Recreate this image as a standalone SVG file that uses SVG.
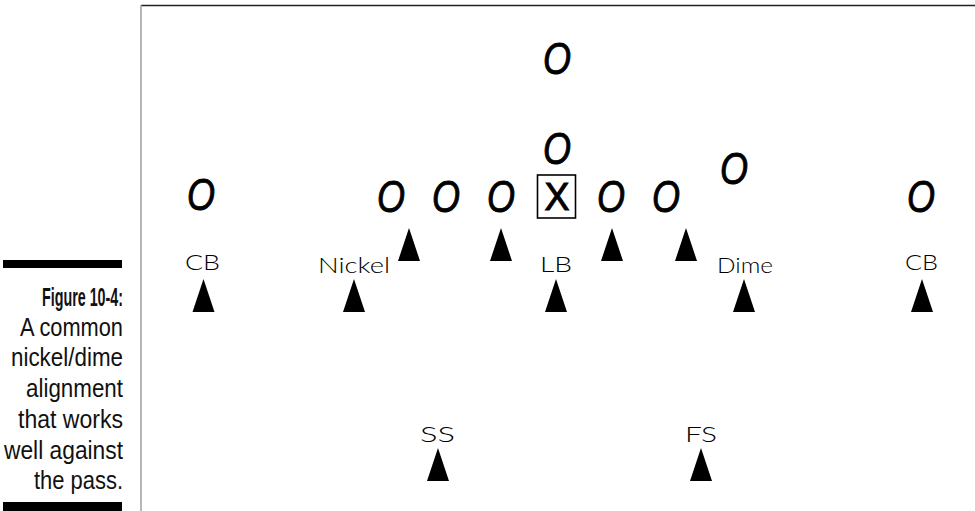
<svg xmlns="http://www.w3.org/2000/svg" width="975" height="511" viewBox="0 0 975 511">
<style>
.cap{font-family:"Liberation Sans",Arial,sans-serif;font-size:26px;fill:#111;text-anchor:end}
.capb{font-weight:bold}
.off{font-family:"Liberation Sans",Arial,sans-serif;font-style:italic;font-size:45px;fill:#000;stroke:#000;stroke-width:0.9;text-anchor:middle}
.lbl{font-family:Lato,"Open Sans",sans-serif;font-weight:300;font-size:22px;fill:#000}
</style>
<defs>
<path id="tri" d="M0,0 L11,33 L-11,33 Z"/>
</defs>
<rect width="975" height="511" fill="#fff"/>
<g id="frame">
<line x1="141" y1="5.5" x2="975" y2="5.5" stroke="#222" stroke-width="1.6"/>
<line x1="141" y1="5" x2="141" y2="511" stroke="#999" stroke-width="1.4"/>
</g>
<g id="caption">
<rect x="3" y="260" width="119" height="8" fill="#000"/>
<rect x="3" y="502" width="119" height="9" fill="#000"/>
<text class="cap capb" x="123" y="306" textLength="81" lengthAdjust="spacingAndGlyphs">Figure 10-4:</text>
<text class="cap" x="123" y="336" textLength="103" lengthAdjust="spacingAndGlyphs">A common</text>
<text class="cap" x="123" y="366" textLength="112" lengthAdjust="spacingAndGlyphs">nickel/dime</text>
<text class="cap" x="123" y="397" textLength="97" lengthAdjust="spacingAndGlyphs">alignment</text>
<text class="cap" x="123" y="428" textLength="105" lengthAdjust="spacingAndGlyphs">that works</text>
<text class="cap" x="123" y="459" textLength="119" lengthAdjust="spacingAndGlyphs">well against</text>
<text class="cap" x="123" y="489" textLength="89" lengthAdjust="spacingAndGlyphs">the pass.</text>
</g>
<g id="offense">
<g id="o-deep"><text class="off" x="557" y="74" textLength="28" lengthAdjust="spacingAndGlyphs">O</text></g>
<g id="o-back"><text class="off" x="557" y="164" textLength="28" lengthAdjust="spacingAndGlyphs">O</text></g>
<g id="o-wr-left"><text class="off" x="201" y="210" textLength="28" lengthAdjust="spacingAndGlyphs">O</text></g>
<g id="o-te"><text class="off" x="391" y="212" textLength="28" lengthAdjust="spacingAndGlyphs">O</text></g>
<g id="o-lt"><text class="off" x="446" y="212" textLength="28" lengthAdjust="spacingAndGlyphs">O</text></g>
<g id="o-lg"><text class="off" x="501" y="212" textLength="28" lengthAdjust="spacingAndGlyphs">O</text></g>
<g id="o-center">
<rect x="537.5" y="175" width="38" height="43" fill="none" stroke="#000" stroke-width="1.6"/>
<text x="557" y="210" style="font-family:'Liberation Sans',Arial,sans-serif;font-size:38px;text-anchor:middle;stroke:#000;stroke-width:1" textLength="25" lengthAdjust="spacingAndGlyphs">X</text>
</g>
<g id="o-rg"><text class="off" x="611" y="212" textLength="28" lengthAdjust="spacingAndGlyphs">O</text></g>
<g id="o-rt"><text class="off" x="666" y="212" textLength="28" lengthAdjust="spacingAndGlyphs">O</text></g>
<g id="o-slot"><text class="off" x="734" y="184" textLength="28" lengthAdjust="spacingAndGlyphs">O</text></g>
<g id="o-wr-right"><text class="off" x="921" y="212" textLength="28" lengthAdjust="spacingAndGlyphs">O</text></g>
</g>
<g id="defense">
<g id="d-lineman-1"><use href="#tri" x="409" y="228"/></g>
<g id="d-lineman-2"><use href="#tri" x="501" y="228"/></g>
<g id="d-lineman-3"><use href="#tri" x="612" y="228"/></g>
<g id="d-lineman-4"><use href="#tri" x="686" y="228"/></g>
<g id="d-cb-left"><text class="lbl" x="185" y="270" textLength="35" lengthAdjust="spacingAndGlyphs">CB</text><use href="#tri" x="203.5" y="279"/></g>
<g id="d-nickel"><text class="lbl" x="318" y="273" textLength="72" lengthAdjust="spacingAndGlyphs">Nickel</text><use href="#tri" x="354" y="279"/></g>
<g id="d-lb"><text class="lbl" x="540" y="272" textLength="32" lengthAdjust="spacingAndGlyphs">LB</text><use href="#tri" x="556" y="279"/></g>
<g id="d-dime"><text class="lbl" x="717" y="273" textLength="56" lengthAdjust="spacingAndGlyphs">Dime</text><use href="#tri" x="744" y="279"/></g>
<g id="d-cb-right"><text class="lbl" x="905" y="270" textLength="33" lengthAdjust="spacingAndGlyphs">CB</text><use href="#tri" x="922" y="279"/></g>
<g id="d-ss"><text class="lbl" x="420" y="442" textLength="35" lengthAdjust="spacingAndGlyphs">SS</text><use href="#tri" x="438" y="448"/></g>
<g id="d-fs"><text class="lbl" x="685" y="442" textLength="32" lengthAdjust="spacingAndGlyphs">FS</text><use href="#tri" x="701" y="448"/></g>
</g>
<g id="connectors"/>
</svg>
